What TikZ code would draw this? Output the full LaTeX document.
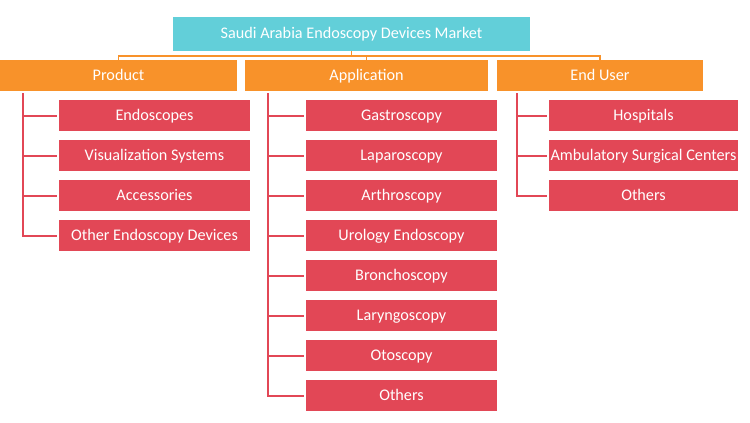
\documentclass[tikz,border=0pt]{standalone}
\usepackage{fontspec}
\setmainfont{Carlito}
\definecolor{rootc}{RGB}{98,207,217}
\definecolor{catc}{RGB}{248,146,42}
\definecolor{leafc}{RGB}{226,71,86}
\begin{document}
\begin{tikzpicture}[x=1pt,y=-1pt,
  box/.style={draw=none,minimum height=31pt,inner sep=0pt,text=white,text height=12pt,text depth=2.5pt,font=\fontsize{16.2}{18}\selectfont},
  rootbox/.style={box,fill=rootc,minimum width=357pt,minimum height=34pt},
  catbox/.style={box,fill=catc,minimum height=31pt},
  leafbox/.style={box,fill=leafc,minimum width=191pt},
  oline/.style={draw=catc,line width=1.6pt},
  rline/.style={draw=leafc,line width=2pt}]
\useasboundingbox (0,0) rectangle (750,423);
\node[rootbox] (root) at (351.5,34) {Saudi Arabia Endoscopy Devices Market};
\node[catbox,minimum width=237pt] (prod) at (118.5,75.5) {Product};
\node[catbox,minimum width=243pt] (app) at (366.5,75.5) {Application};
\node[catbox,minimum width=206pt] (eu) at (600,75.5) {End User};
% Product leaves
\node[leafbox] (p1) at (154.5,115.5) {Endoscopes};
\node[leafbox] (p2) at (154.5,155.5) {Visualization Systems};
\node[leafbox] (p3) at (154.5,195.5) {Accessories};
\node[leafbox] (p4) at (154.5,235.5) {Other Endoscopy Devices};
% Application leaves
\node[leafbox] (a1) at (401.5,115.5) {Gastroscopy};
\node[leafbox] (a2) at (401.5,155.5) {Laparoscopy};
\node[leafbox] (a3) at (401.5,195.5) {Arthroscopy};
\node[leafbox] (a4) at (401.5,235.5) {Urology Endoscopy};
\node[leafbox] (a5) at (401.5,275.5) {Bronchoscopy};
\node[leafbox] (a6) at (401.5,315.5) {Laryngoscopy};
\node[leafbox] (a7) at (401.5,355.5) {Otoscopy};
\node[leafbox] (a8) at (401.5,395.5) {Others};
% End user leaves
\node[leafbox,minimum width=189pt] (e1) at (643.5,115.5) {Hospitals};
\node[leafbox,minimum width=189pt] (e2) at (643.5,155.5) {Ambulatory Surgical Centers};
\node[leafbox,minimum width=189pt] (e3) at (643.5,195.5) {Others};
% orange connectors
\coordinate (hub) at (351.5,56);
\draw[oline] (root.south) -- (hub);
\draw[oline] (hub) -| (prod.north);
\draw[oline] (hub) -| (app.north);
\draw[oline] (hub) -| (eu.north);
% red connectors
\coordinate (pv) at (23,93);
\coordinate (av) at (268,93);
\coordinate (ev) at (517,93);
\foreach \n in {p1,p2,p3,p4} \draw[rline,shorten >=2pt] (pv) |- (\n.west);
\foreach \n in {a1,a2,a3,a4,a5,a6,a7,a8} \draw[rline,shorten >=2pt] (av) |- (\n.west);
\foreach \n in {e1,e2,e3} \draw[rline,shorten >=2pt] (ev) |- (\n.west);
\end{tikzpicture}
\end{document}
